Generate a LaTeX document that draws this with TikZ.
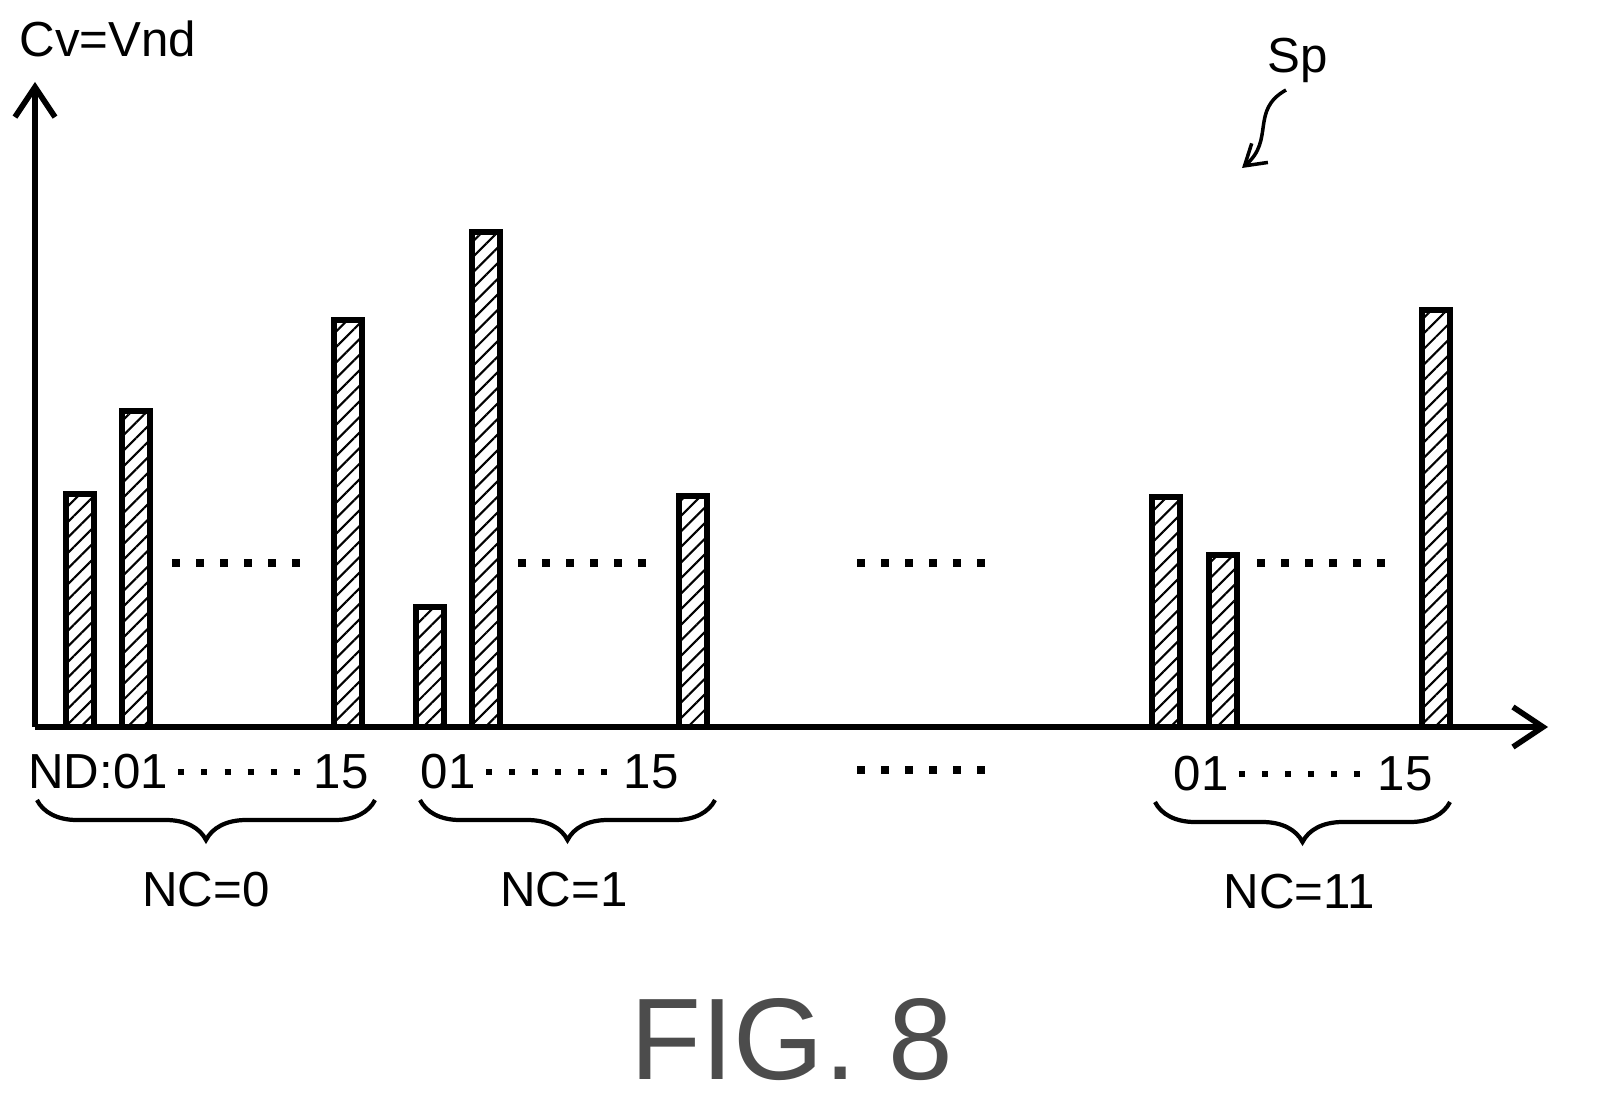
\documentclass[tikz,border=0pt]{standalone}
\usepackage{fontspec}
\setmainfont{Liberation Sans}
\usetikzlibrary{patterns.meta,decorations.pathreplacing,arrows.meta}
\tikzset{
  bar/.style={draw,line width=1.6pt,pattern={Lines[angle=45,distance=0.11cm,line width=0.6pt]}},
  dotrow/.style={line width=0.08cm,dash pattern=on 0.08cm off 0.16cm},
  lbl/.style={font=\fontsize{14}{16}\selectfont,inner sep=0pt},
  brc/.style={decorate,decoration={brace,mirror,amplitude=0.4cm,aspect=0.5},line width=1.2pt}
}
\begin{document}
\begin{tikzpicture}[x=0.01cm,y=-0.01cm]
  \useasboundingbox (0,0) rectangle (1607,1119);
  % Axes
  \coordinate (o) at (35,727);
  \coordinate (ytop) at (35,82);
  \coordinate (xend) at (1548,727);
  \draw[line width=1.6pt,-{Straight Barb[length=0.3cm,width=0.4cm]}] (o) -- (ytop);
  \draw[line width=1.6pt,-{Straight Barb[length=0.3cm,width=0.4cm]}] (o) -- (xend);
  \node[lbl,anchor=south] (ylab) at (108,58) {Cv=Vnd};

  % Bars
  \foreach \l/\t in {66/494,122/411,334/320,416/607,472/232,679/496,1152/497,1209/555,1422/310}
    \draw[bar] (\l,727) rectangle (\l+28,\t);

  % Dotted rows
  \foreach \a/\b in {172/315,518/662,857/1000,1257/1400}
    \draw[dotrow] (\a,563) -- (\b,563);
  \draw[dotrow] (857,770) -- (1000,770);

  % Tick labels
  \node[lbl] (nd0) at (98,772) {ND:01};
  \node[lbl] (e0) at (341,772) {15};
  \node[lbl] (s1) at (448,772) {01};
  \node[lbl] (e1) at (651,772) {15};
  \node[lbl] (s2) at (1201,774) {01};
  \node[lbl] (e2) at (1405,774) {15};
  \draw[dotrow,line width=0.06cm,dash pattern=on 0.06cm off 0.17cm] (nd0.east) ++(10,0) -- ([xshift=-0.12cm]e0.west);
  \draw[dotrow,line width=0.06cm,dash pattern=on 0.06cm off 0.17cm] (s1.east) ++(10,0) -- ([xshift=-0.12cm]e1.west);
  \draw[dotrow,line width=0.06cm,dash pattern=on 0.06cm off 0.17cm] (s2.east) ++(10,0) -- ([xshift=-0.12cm]e2.west);

  % Braces
  \draw[brc] (37,800) -- (375,800);
  \draw[brc] (420,800) -- (715,800);
  \draw[brc] (1155,802) -- (1450,802);
  \node[lbl] (nc0) at (206,890) {NC=0};
  \node[lbl] (nc1) at (564,890) {NC=1};
  \node[lbl] (nc11) at (1299,892) {NC=11};

  % Reference sign
  \node[lbl] (sp) at (1298,60) {Sp};
  \coordinate (sptip) at (1242,168);
  \draw[line width=1pt,-{Straight Barb[length=0.2cm,width=0.25cm]}] (1286,90) .. controls (1250,110) and (1275,140) .. (sptip);

  % Caption
  \node[font=\fontsize{33}{36}\selectfont,text=black!70,inner sep=0pt] (fig) at (792,1040) {FIG. 8};
\end{tikzpicture}
\end{document}
